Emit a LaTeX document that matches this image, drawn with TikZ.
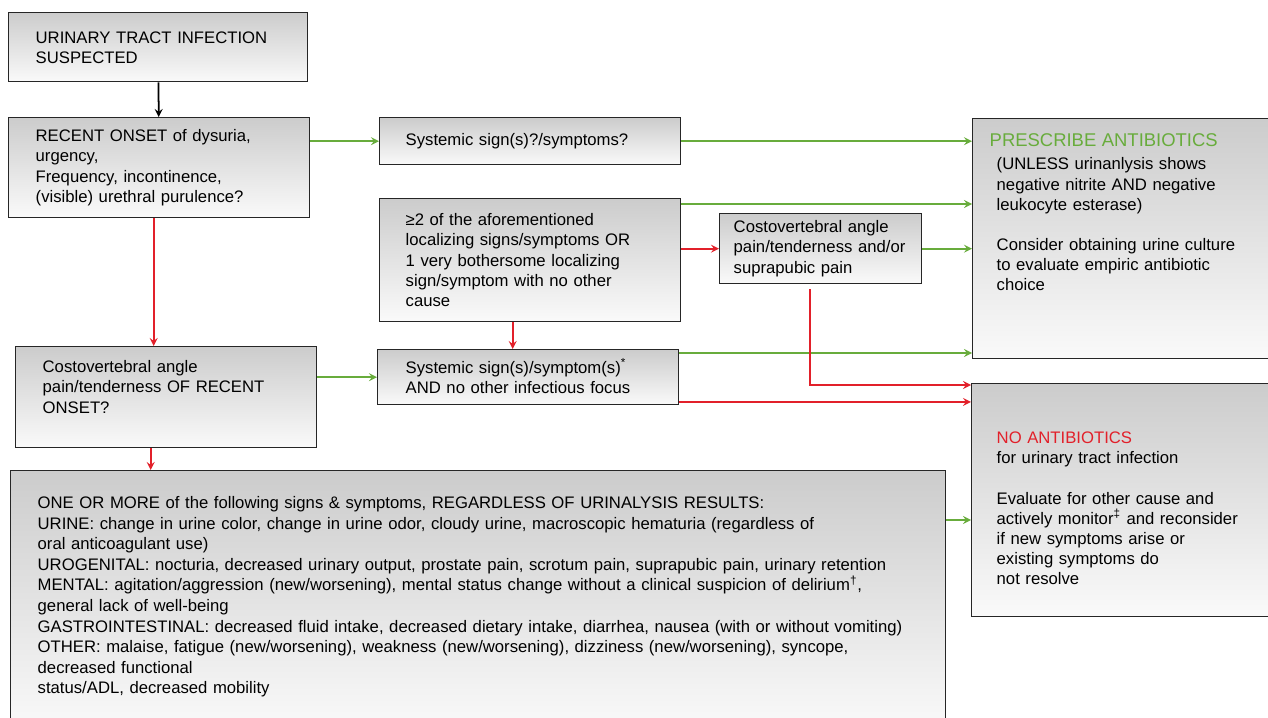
\documentclass[tikz,border=0pt]{standalone}
\usepackage{fontspec}
\setmainfont{Liberation Sans}
\usetikzlibrary{shapes,arrows,positioning}
\definecolor{yesgreen}{RGB}{104,172,60}
\definecolor{nored}{RGB}{226,32,42}

\begin{document}
\begin{tikzpicture}[x=0.02cm, y=0.02cm, font=\fontsize{9.5}{11.5}\selectfont]
  \tikzstyle{box} = [rectangle, draw=black!85, line width=0.8pt, top color=black!20, bottom color=black!2, anchor=north west, inner ysep=0pt, text height=0.24cm, align=left]
  \tikzstyle{arrow} = [line width=1pt,->,>=stealth]
  \tikzstyle{yesarrow} = [arrow, yesgreen]
  \tikzstyle{noarrow} = [arrow, nored]

  \useasboundingbox (0,0) rectangle (1268,-717);
  \clip (0,0) rectangle (1268,-717);

  \node[box, minimum width=5.98cm, minimum height=1.38cm, inner xsep=0.54cm, text width=4.9cm] (uti) at (8,-12) {URINARY TRACT INFECTION\\SUSPECTED};
  \node[box, minimum width=6.02cm, minimum height=2cm, inner xsep=0.54cm, text width=4.94cm] (onset) at (8,-117) {RECENT ONSET of dysuria,\\urgency,\\Frequency, incontinence,\\(visible) urethral purulence?};
  \node[box, minimum width=6.02cm, minimum height=0.94cm, inner xsep=0.52cm, text width=4.98cm] (sys1) at (379,-117) {Systemic sign(s)?/symptoms?};
  \node[box, minimum width=6.02cm, minimum height=2.46cm, inner xsep=0.52cm, text width=4.98cm] (local) at (379,-198) {≥2 of the aforementioned\\localizing signs/symptoms OR\\1 very bothersome localizing\\sign/symptom with no other\\cause};
  \node[box, minimum width=4.04cm, minimum height=1.4cm, inner xsep=0.28cm, text width=3.48cm] (cva2) at (719,-213) {Costovertebral angle\\pain/tenderness and/or\\suprapubic pain};
  \node[box, minimum width=6.02cm, minimum height=2.02cm, inner xsep=0.54cm, text width=4.94cm, text depth=1.22cm] (cva1) at (15,-346) {Costovertebral angle\\pain/tenderness OF RECENT\\ONSET?};
  \node[box, minimum width=6.02cm, minimum height=1.1cm, inner xsep=0.56cm, text width=4.9cm] (sys2) at (377,-349) {Systemic sign(s)/symptom(s)\textsuperscript{*}\\AND no other infectious focus};

  % outcomes
  \node[box, minimum width=6.2cm, minimum height=4.8cm, inner xsep=0.48cm, text width=5.24cm, text depth=3.92cm] (presc) at (972,-118) {\hspace*{-0.14cm}{\fontsize{10.5}{11.5}\selectfont\textcolor{yesgreen}{PRESCRIBE ANTIBIOTICS}}\\[0.06cm](UNLESS urinanlysis shows\\negative nitrite AND negative\\leukocyte esterase)\\[0.4cm]Consider obtaining urine culture\\to evaluate empiric antibiotic\\choice};
  \node[box, minimum width=6.22cm, minimum height=4.66cm, inner xsep=0.5cm, text width=5.22cm, text depth=2.5cm] (noanti) at (971,-383) {\textcolor{nored}{NO ANTIBIOTICS}\\for urinary tract infection\\[0.4cm]Evaluate for other cause and\\actively monitor\textsuperscript{‡} and reconsider\\if new symptoms arise or\\existing symptoms do\\not resolve};

  \node[box, font=\fontsize{9.5}{11.7}\selectfont, minimum width=18.7cm, minimum height=5.2cm, inner xsep=0.54cm, text width=17.62cm, text depth=3.92cm] (signs) at (10,-470) {ONE OR MORE of the following signs \& symptoms, REGARDLESS OF URINALYSIS RESULTS:\\URINE: change in urine color, change in urine odor, cloudy urine, macroscopic hematuria (regardless of\\oral anticoagulant use)\\UROGENITAL: nocturia, decreased urinary output, prostate pain, scrotum pain, suprapubic pain, urinary retention\\MENTAL: agitation/aggression (new/worsening), mental status change without a clinical suspicion of delirium\textsuperscript{†},\\general lack of well-being\\GASTROINTESTINAL: decreased fluid intake, decreased dietary intake, diarrhea, nausea (with or without vomiting)\\OTHER: malaise, fatigue (new/worsening), weakness (new/worsening), dizziness (new/worsening), syncope,\\decreased functional\\status/ADL, decreased mobility};

  \draw[arrow] (uti) -- (onset);
  \draw[yesarrow] (onset.east |- sys1) -- (sys1);
  \draw[noarrow] ([xshift=-0.11cm]onset.south) -- ([xshift=-0.11cm]onset.south |- cva1.north);
  \draw[yesarrow] (sys1) -- (sys1 -| presc.west);
  \draw[yesarrow] ([yshift=-0.12cm]local.north east) -- ([yshift=-0.12cm]local.north east -| presc.west);
  \draw[noarrow] (local.east |- cva2) -- (cva2);
  \draw[yesarrow] (cva2) -- (cva2 -| presc.west);
  \draw[noarrow] ([xshift=-0.35cm]local.south) -- ([xshift=-0.35cm]local.south |- sys2.north);
  \draw[yesarrow] (cva1.east |- sys2) -- (sys2);
  \draw[yesarrow] ([yshift=-0.08cm]sys2.north east) -- ([yshift=-0.08cm]sys2.north east -| presc.west);
  \draw[noarrow] ([yshift=0.07cm]sys2.south east) -- ([yshift=0.07cm]sys2.south east -| noanti.west);
  \draw[noarrow] ([xshift=-0.22cm,yshift=-0.1cm]cva2.south) |- ([yshift=-0.04cm]noanti.north west);
  \draw[noarrow] ([xshift=-0.31cm]cva1.south) -- ([xshift=-0.31cm]cva1.south |- signs.north);
  \draw[yesarrow] ([yshift=-1cm]signs.north east) -- ([yshift=-1cm]signs.north east -| noanti.west);
\end{tikzpicture}
\end{document}
